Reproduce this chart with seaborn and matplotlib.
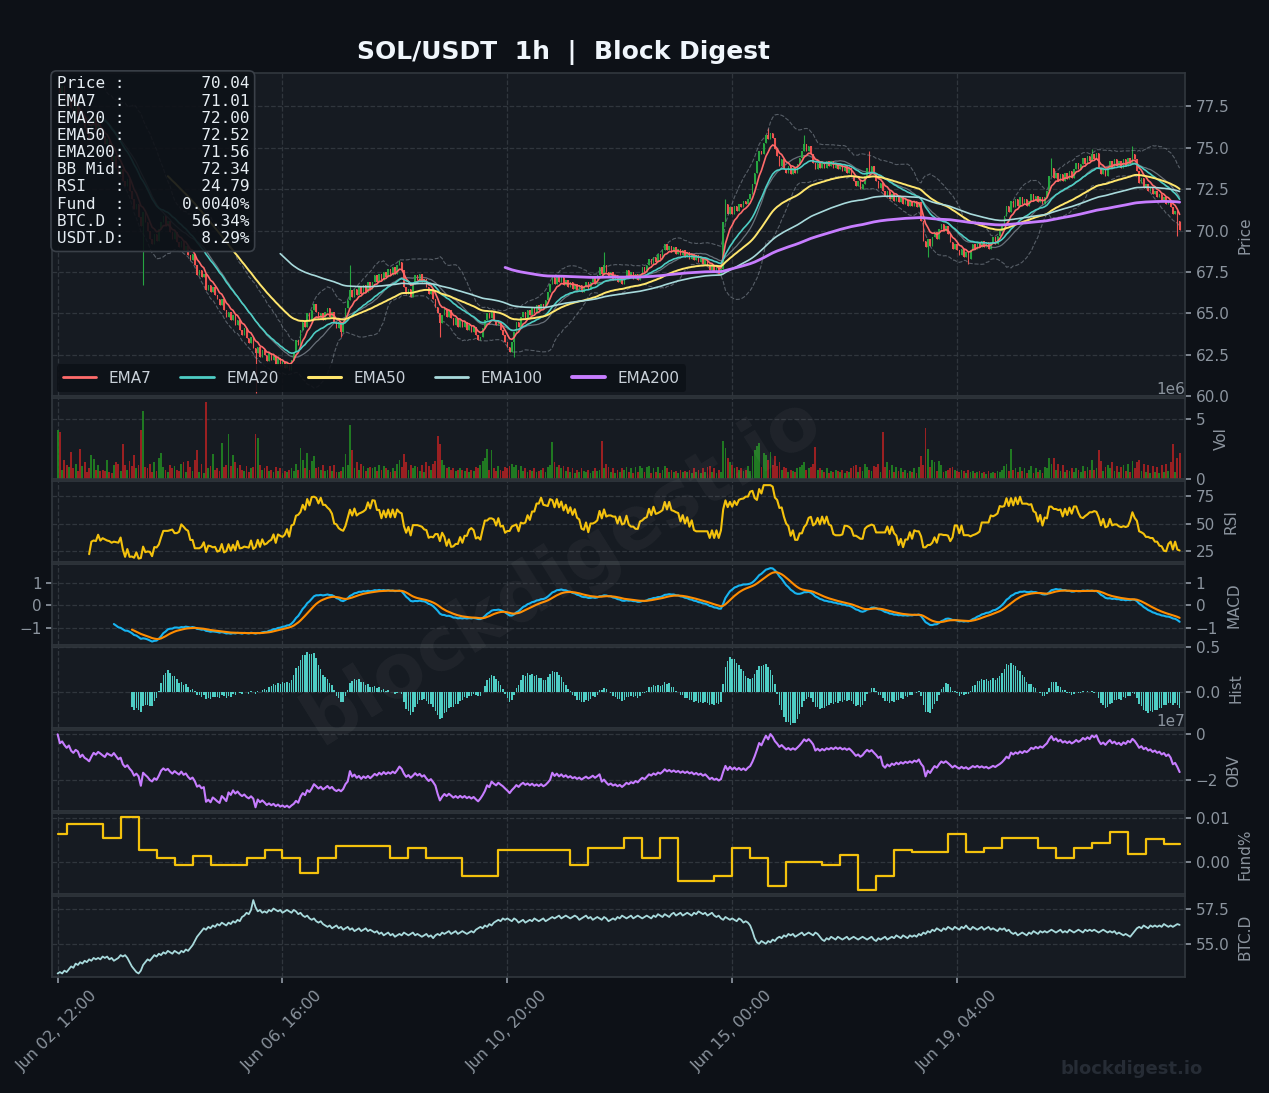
import numpy as np
import pandas as pd
import seaborn as sns
import matplotlib.pyplot as plt
import matplotlib.dates as mdates
from matplotlib.ticker import MultipleLocator

# ---- données (bougies 1h) ----
start = "2025-06-02 12:00"

close = [
    78.6, 78.3, 78.7, 78.1, 77.8, 78.0, 77.4, 77.1, 77.5, 76.9, 76.6, 76.8, 76.2, 75.9, 75.5, 76.3, 76.8, 76.1, 76.5, 75.9,
    75.7, 75.2, 75.5, 74.8, 74.2, 74.5, 73.8, 73.4, 73.7, 73.0, 72.7, 73.1, 72.4, 71.9, 71.3, 71.6, 70.8, 70.3, 71.1, 70.5,
    70.0, 69.5, 69.2, 69.8, 69.4, 70.1, 70.5, 70.9, 70.3, 70.6, 69.9, 69.5, 69.9, 69.3, 69.0, 69.4, 68.8, 69.1, 68.5, 68.2,
    68.6, 67.9, 67.3, 67.6, 67.2, 67.4, 66.4, 66.7, 66.3, 66.6, 66.1, 65.9, 65.5, 65.9, 65.2, 64.8, 65.1, 64.6, 64.9, 64.3,
    64.6, 64.0, 63.7, 64.1, 63.5, 63.2, 63.6, 62.9, 62.6, 63.0, 62.4, 62.8, 62.5, 62.1, 62.6, 62.2, 62.5, 61.9, 62.3, 61.8,
    62.1, 61.7, 62.0, 61.6, 62.2, 62.7, 63.4, 63.1, 64.0, 64.5, 64.2, 65.0, 64.6, 65.2, 65.6, 65.1, 64.7, 65.0, 64.6, 65.1,
    65.3, 64.8, 65.1, 64.5, 64.1, 64.5, 63.9, 64.4, 65.3, 65.8, 66.4, 66.0, 66.5, 66.1, 66.6, 66.2, 66.7, 66.3, 66.9, 66.5,
    66.9, 67.3, 66.9, 67.4, 67.0, 67.5, 67.2, 67.7, 67.3, 67.8, 67.4, 67.9, 68.1, 67.6, 66.6, 66.2, 66.5, 66.0, 66.8, 67.3,
    67.0, 67.4, 66.9, 67.1, 66.6, 66.2, 66.5, 65.9, 65.4, 65.0, 64.4, 64.9, 65.3, 64.8, 65.2, 64.7, 64.3, 64.7, 64.2, 64.6,
    64.2, 64.5, 64.0, 64.3, 63.9, 64.2, 63.7, 63.4, 63.6, 64.1, 64.6, 65.0, 64.7, 65.1, 64.6, 64.3, 64.5, 64.0, 63.7, 63.3,
    63.0, 62.7, 63.3, 63.9, 64.5, 64.2, 64.8, 65.1, 64.7, 65.2, 64.9, 65.3, 65.0, 65.5, 65.2, 65.6, 65.3, 65.8, 66.3, 66.8,
    67.2, 66.8, 67.3, 66.9, 67.2, 66.7, 67.0, 66.6, 66.9, 66.5, 66.8, 66.4, 66.7, 66.3, 66.6, 66.9, 66.5, 66.9, 67.2, 66.8,
    67.3, 67.8, 67.4, 67.9, 67.5, 67.2, 67.5, 67.0, 67.3, 66.9, 67.2, 66.8, 67.2, 67.6, 67.2, 67.5, 67.1, 67.4, 67.0, 67.4,
    67.8, 67.5, 67.9, 68.3, 68.0, 68.4, 68.1, 68.6, 68.3, 68.8, 69.2, 68.8, 69.1, 68.7, 69.0, 68.6, 68.9, 68.5, 68.8, 68.4,
    68.7, 68.3, 68.6, 68.2, 68.5, 68.1, 68.4, 68.0, 68.3, 67.9, 67.6, 67.9, 67.5, 67.8, 67.4, 67.7, 70.5, 71.6, 71.0, 71.4,
    71.0, 71.5, 71.2, 71.6, 71.4, 71.8, 71.6, 71.9, 72.2, 72.8, 73.5, 74.2, 74.8, 74.6, 75.3, 75.8, 75.5, 75.9, 75.6, 74.9,
    74.5, 73.9, 74.3, 73.7, 73.5, 73.9, 73.4, 73.8, 73.5, 74.0, 74.4, 74.8, 75.2, 74.8, 75.1, 74.6, 74.1, 73.7, 74.1, 73.8,
    74.1, 73.8, 74.2, 73.9, 74.2, 73.8, 74.1, 73.7, 74.0, 73.6, 73.9, 73.5, 73.8, 73.3, 73.0, 72.7, 73.0, 72.5, 72.8, 73.3,
    73.8, 73.5, 73.9, 73.4, 73.0, 72.6, 72.9, 72.4, 72.1, 72.4, 71.9, 72.2, 71.8, 72.1, 71.7, 72.0, 71.6, 71.9, 71.5, 71.8,
    71.5, 71.8, 71.4, 71.7, 70.6, 69.4, 69.0, 69.5, 69.1, 69.6, 69.9, 69.5, 70.1, 70.4, 70.0, 70.3, 69.8, 69.3, 68.9, 69.2,
    68.8, 68.5, 68.9, 68.4, 68.7, 68.3, 68.8, 69.2, 68.9, 69.3, 69.0, 69.4, 69.0, 69.3, 68.9, 69.3, 69.6, 69.2, 69.7, 70.0,
    70.4, 70.9, 71.5, 71.1, 71.8, 71.4, 71.9, 71.5, 72.0, 71.6, 71.9, 71.5, 71.8, 72.2, 71.8, 72.1, 71.7, 72.0, 71.6, 72.0,
    72.4, 73.3, 73.8, 73.2, 73.5, 73.0, 73.4, 73.0, 73.5, 73.1, 73.6, 73.2, 73.7, 74.1, 73.7, 74.0, 74.4, 74.0, 74.5, 74.2,
    74.6, 74.3, 74.7, 73.8, 73.4, 73.7, 73.3, 73.8, 74.2, 73.8, 74.3, 73.9, 74.2, 73.8, 74.3, 73.9, 74.4, 74.1, 74.6, 74.3,
    73.6, 72.9, 73.2, 72.6, 72.8, 72.4, 72.6, 72.2, 72.4, 72.0, 72.2, 71.8, 72.0, 71.6, 71.8, 71.4, 71.0, 71.2, 70.6, 70.04,
]

# mèches marquantes (heure depuis le début -> prix)
wick_low = {38: 66.7, 88: 60.2, 126: 63.6, 170: 63.6, 203: 62.4, 387: 68.4, 405: 68.0, 498: 69.7}
wick_high = {130: 67.9, 152: 68.2, 243: 68.7, 297: 71.9, 316: 76.2, 332: 75.8, 361: 74.8, 442: 74.4, 460: 74.9, 478: 75.1}

# volume en millions
volume_m = [
    4.1, 3.9, 0.8, 1.6, 1.2, 1.0, 2.3, 0.9, 1.3, 0.7, 2.5, 1.1, 1.4, 0.6, 0.9, 2.0, 1.7, 0.8, 1.2, 0.7,
    0.8, 0.7, 1.6, 0.6, 0.5, 1.2, 1.4, 1.3, 0.7, 2.9, 1.2, 0.8, 1.5, 1.1, 2.0, 0.9, 1.2, 4.1, 5.7, 1.0,
    0.9, 1.3, 0.6, 1.4, 0.7, 1.8, 2.2, 1.0, 0.8, 0.6, 1.2, 0.9, 1.1, 0.8, 0.7, 1.3, 1.4, 0.6, 1.5, 1.0,
    0.7, 1.6, 2.4, 0.6, 1.3, 0.5, 6.4, 0.9, 1.1, 2.1, 0.8, 0.9, 0.7, 3.0, 1.0, 1.2, 3.8, 1.1, 2.0, 1.4,
    0.9, 1.2, 0.8, 0.7, 1.1, 0.6, 0.9, 1.0, 3.8, 3.4, 1.2, 0.8, 0.9, 1.1, 0.7, 0.8, 0.6, 1.0, 0.7, 0.9,
    0.5, 0.7, 0.6, 0.8, 0.9, 0.7, 1.3, 0.8, 2.6, 1.6, 0.9, 2.2, 0.8, 1.5, 1.9, 0.9, 1.0, 0.8, 1.2, 0.7,
    0.8, 1.1, 0.7, 1.2, 0.6, 0.6, 0.7, 1.0, 2.1, 1.2, 4.5, 2.4, 0.9, 1.4, 0.8, 1.3, 1.1, 0.7, 0.9, 1.0,
    0.9, 1.0, 0.7, 1.2, 0.8, 1.1, 0.9, 0.8, 0.6, 0.9, 0.7, 1.3, 1.6, 1.0, 2.1, 1.4, 0.8, 1.2, 0.9, 1.1,
    1.0, 0.7, 1.2, 0.6, 1.4, 1.1, 0.8, 1.3, 1.5, 3.6, 2.9, 1.6, 1.2, 0.9, 1.0, 0.8, 0.9, 0.7, 0.8, 0.9,
    0.8, 0.7, 0.9, 0.6, 0.8, 0.7, 1.0, 0.9, 1.2, 1.5, 1.8, 2.5, 0.8, 2.4, 0.9, 0.7, 1.1, 0.8, 0.7, 1.0,
    0.9, 1.1, 1.3, 1.0, 1.2, 0.8, 1.1, 0.7, 0.9, 0.6, 0.8, 0.7, 0.9, 0.6, 0.7, 0.8, 0.9, 0.6, 1.0, 1.2,
    3.1, 1.4, 1.0, 1.2, 0.9, 1.1, 0.7, 1.0, 0.6, 0.9, 0.5, 0.8, 0.6, 0.9, 0.7, 0.6, 0.8, 0.5, 0.7, 0.9,
    0.7, 0.8, 3.2, 0.9, 1.3, 1.0, 0.6, 0.9, 0.5, 0.8, 0.6, 0.9, 0.8, 1.0, 0.6, 0.9, 0.5, 1.0, 0.6, 1.1,
    0.9, 0.6, 1.0, 1.1, 0.5, 0.9, 0.6, 1.0, 0.5, 0.8, 1.1, 0.9, 0.6, 0.8, 0.6, 0.7, 0.5, 0.8, 0.6, 0.7,
    0.6, 0.8, 0.5, 0.9, 0.6, 0.8, 0.5, 0.9, 0.6, 1.0, 1.1, 0.6, 0.9, 0.5, 0.8, 0.6, 3.2, 2.6, 1.8, 1.4,
    1.2, 0.9, 1.0, 0.8, 0.9, 0.7, 0.8, 1.1, 0.7, 1.9, 2.4, 2.8, 3.0, 1.0, 2.2, 2.0, 1.6, 2.3, 1.2, 1.9,
    1.1, 1.4, 0.8, 1.0, 0.9, 0.6, 0.8, 0.7, 0.6, 0.9, 1.0, 1.2, 1.4, 0.8, 0.9, 1.0, 1.3, 2.7, 0.8, 0.9,
    0.8, 0.6, 0.9, 0.5, 0.7, 0.6, 0.8, 0.7, 0.6, 0.8, 0.5, 0.7, 0.6, 0.9, 1.1, 1.2, 0.6, 1.0, 0.7, 1.3,
    1.0, 0.8, 0.7, 1.1, 1.0, 1.3, 0.6, 3.9, 1.0, 1.4, 0.8, 1.2, 0.6, 1.0, 0.7, 0.9, 0.6, 0.8, 0.5, 0.7,
    0.6, 0.9, 0.5, 1.0, 1.9, 1.2, 4.3, 2.5, 1.0, 1.6, 1.4, 0.7, 1.5, 1.2, 0.6, 0.7, 0.8, 0.9, 1.0, 0.8,
    0.7, 0.6, 0.8, 0.7, 0.5, 0.8, 0.6, 0.7, 0.5, 0.6, 0.7, 0.5, 0.6, 0.4, 0.7, 0.5, 0.6, 0.5, 0.7, 0.6,
    0.8, 1.1, 1.3, 0.7, 2.5, 0.8, 0.9, 0.6, 1.0, 0.7, 0.9, 0.5, 0.8, 1.1, 0.5, 0.9, 0.6, 0.8, 0.5, 1.0,
    0.9, 1.8, 1.3, 1.8, 0.8, 1.3, 0.7, 1.2, 0.6, 0.8, 0.7, 0.9, 0.6, 0.9, 0.8, 0.6, 1.1, 0.7, 1.0, 0.8,
    1.6, 0.8, 0.9, 2.4, 1.5, 0.7, 1.0, 1.2, 0.9, 1.4, 0.7, 1.1, 0.6, 1.0, 1.2, 0.7, 1.3, 0.6, 1.5, 0.9,
    1.4, 1.6, 0.7, 1.3, 0.6, 1.2, 0.5, 1.1, 0.6, 1.0, 0.5, 1.2, 0.6, 1.3, 0.7, 1.4, 2.9, 0.6, 1.8, 2.2,
]

# dominance BTC (%)
btc_d = [
    52.9, 53.0, 52.9, 53.1, 53.0, 53.2, 53.4, 53.3, 53.6, 53.5, 53.7, 53.6, 53.8, 53.7, 53.9, 53.8, 54.0, 53.9, 54.0, 53.9,
    54.1, 54.0, 54.1, 53.9, 54.0, 53.8, 53.9, 54.0, 54.2, 54.1, 54.2, 54.0, 53.7, 53.4, 53.2, 53.0, 52.9, 53.1, 53.5, 53.7,
    53.9, 53.8, 54.0, 54.2, 54.1, 54.3, 54.2, 54.4, 54.3, 54.5, 54.4, 54.3, 54.5, 54.4, 54.3, 54.5, 54.4, 54.6, 54.5, 54.7,
    54.9, 55.2, 55.5, 55.7, 55.9, 56.1, 56.0, 56.2, 56.1, 56.3, 56.2, 56.4, 56.3, 56.5, 56.4, 56.3, 56.5, 56.4, 56.6, 56.5,
    56.7, 56.6, 56.9, 57.0, 57.2, 57.1, 57.4, 58.1, 57.6, 57.3, 57.4, 57.2, 57.3, 57.2, 57.4, 57.3, 57.5, 57.4, 57.3, 57.4,
    57.2, 57.3, 57.4, 57.3, 57.2, 57.4, 57.3, 57.1, 57.2, 57.0, 56.9, 57.0, 56.8, 56.7, 56.8, 56.6, 56.5, 56.6, 56.4, 56.3,
    56.2, 56.3, 56.1, 56.2, 56.3, 56.1, 56.2, 56.0, 56.1, 56.2, 56.0, 56.1, 55.9, 56.0, 56.1, 55.9, 56.0, 56.1, 55.9, 56.0,
    55.9, 55.8, 55.9, 55.7, 55.8, 55.6, 55.7, 55.8, 55.6, 55.7, 55.5, 55.6, 55.7, 55.6, 55.8, 55.7, 55.6, 55.7, 55.8, 55.6,
    55.7, 55.6, 55.5, 55.6, 55.7, 55.5, 55.6, 55.4, 55.6, 55.7, 55.6, 55.8, 55.7, 55.8, 55.9, 55.7, 55.8, 55.9, 55.7, 55.8,
    55.9, 55.8, 55.7, 55.8, 55.9, 55.8, 56.0, 56.1, 56.2, 56.1, 56.3, 56.2, 56.4, 56.3, 56.5, 56.6, 56.7, 56.6, 56.8, 56.7,
    56.8, 56.7, 56.6, 56.8, 56.7, 56.5, 56.6, 56.7, 56.5, 56.6, 56.7, 56.6, 56.8, 56.7, 56.6, 56.7, 56.8, 56.6, 56.7, 56.8,
    56.9, 56.8, 56.9, 57.0, 56.8, 56.9, 57.0, 56.9, 56.8, 56.9, 57.0, 56.9, 56.7, 56.8, 56.9, 57.0, 56.8, 56.9, 56.7, 56.8,
    56.9, 56.8, 56.7, 56.9, 56.8, 56.6, 56.7, 56.8, 56.7, 56.9, 56.8, 57.0, 56.9, 56.8, 56.9, 57.0, 56.8, 56.9, 57.0, 56.9,
    56.8, 56.9, 57.0, 56.9, 56.8, 57.0, 56.9, 57.1, 57.0, 56.9, 57.1, 57.0, 56.9, 57.1, 57.2, 57.0, 57.1, 57.2, 57.0, 57.1,
    57.2, 57.1, 57.0, 57.2, 57.1, 57.3, 57.2, 57.1, 57.2, 57.0, 57.1, 57.2, 57.0, 56.9, 57.0, 56.8, 56.7, 56.9, 56.8, 56.7,
    56.8, 56.7, 56.6, 56.8, 56.7, 56.5, 56.6, 56.5, 56.3, 55.9, 55.4, 55.1, 55.0, 55.2, 55.1, 55.0, 55.2, 55.1, 55.3, 55.2,
    55.4, 55.5, 55.4, 55.6, 55.5, 55.7, 55.6, 55.7, 55.5, 55.6, 55.7, 55.8, 55.6, 55.7, 55.8, 55.7, 55.6, 55.8, 55.7, 55.5,
    55.3, 55.2, 55.4, 55.3, 55.5, 55.4, 55.3, 55.5, 55.4, 55.3, 55.4, 55.5, 55.3, 55.4, 55.5, 55.4, 55.3, 55.4, 55.5, 55.4,
    55.3, 55.4, 55.5, 55.3, 55.2, 55.4, 55.3, 55.4, 55.5, 55.3, 55.4, 55.5, 55.4, 55.6, 55.5, 55.4, 55.6, 55.5, 55.4, 55.6,
    55.5, 55.6, 55.5, 55.7, 55.6, 55.8, 55.7, 55.9, 55.8, 56.0, 55.9, 56.1, 56.0, 55.9, 56.1, 56.0, 56.2, 56.1, 56.0, 56.2,
    56.1, 56.0, 56.2, 56.1, 56.3, 56.1, 56.0, 56.2, 56.1, 56.0, 56.1, 56.2, 56.0, 56.1, 56.2, 56.0, 56.1, 56.0, 55.9, 56.1,
    56.0, 56.1, 55.9, 56.0, 55.8, 55.7, 55.8, 55.6, 55.7, 55.8, 55.7, 55.6, 55.8, 55.7, 55.9, 55.8, 55.7, 55.9, 55.8, 55.9,
    55.8, 55.9, 56.0, 55.9, 55.8, 55.9, 56.0, 55.8, 55.9, 55.8, 56.0, 55.9, 55.8, 55.9, 56.0, 55.9, 55.8, 56.0, 55.9, 56.0,
    55.9, 56.0, 55.9, 55.8, 55.9, 56.0, 55.9, 55.8, 55.9, 55.8, 55.9, 55.7, 55.8, 55.7, 55.6, 55.7, 55.6, 55.5, 55.7, 55.9,
    56.1, 56.2, 56.1, 56.3, 56.2, 56.1, 56.3, 56.2, 56.3, 56.2, 56.3, 56.2, 56.4, 56.3, 56.2, 56.3, 56.2, 56.3, 56.4, 56.34,
]

# funding (%) par période de 8h, la première est entamée (00h/08h/16h UTC)
funding = [
    0.0063, 0.0085, 0.0085, 0.0054, 0.0101, 0.0028, 0.0010, -0.0007, 0.0015, -0.0007,
    -0.0007, 0.0010, 0.0028, 0.0010, -0.0023, 0.0010, 0.0037, 0.0037, 0.0037, 0.0010,
    0.0033, 0.0010, 0.0010, -0.0030, -0.0030, 0.0028, 0.0028, 0.0028, 0.0028, -0.0007,
    0.0033, 0.0033, 0.0054, 0.0010, 0.0054, -0.0042, -0.0042, -0.0030, 0.0033, 0.0010,
    -0.0053, 0.0001, 0.0001, -0.0007, 0.0017, -0.0063, -0.0030, 0.0028, 0.0024, 0.0024,
    0.0063, 0.0024, 0.0033, 0.0054, 0.0054, 0.0033, 0.0010, 0.0033, 0.0044, 0.0068,
    0.0018, 0.0052, 0.0040,
]

readout_labels = ["Price", "EMA7", "EMA20", "EMA50", "EMA200", "BB Mid", "RSI", "Fund", "BTC.D", "USDT.D"]
readout_values = ["70.04", "71.01", "72.00", "72.52", "71.56", "72.34", "24.79", "0.0040%", "56.34%", "8.29%"]

ema_periods = [7, 20, 50, 100, 200]
ema_colors = ["#ff6b6b", "#4ecdc4", "#ffe66d", "#a8dadc", "#c77dff"]
ema_widths = [1.2, 1.2, 1.4, 1.2, 2.0]

# ---- calculs ----
dates = pd.date_range(start, periods=len(close), freq="h")
df = pd.DataFrame({"close": close, "volume": np.array(volume_m) * 1e6, "btc_d": btc_d}, index=dates)
df["open"] = df["close"].shift(1).fillna(df["close"].iloc[0])
df["high"] = df[["open", "close"]].max(axis=1)
df["low"] = df[["open", "close"]].min(axis=1)
for h, v in wick_low.items():
    df.iloc[h, df.columns.get_loc("low")] = v
for h, v in wick_high.items():
    df.iloc[h, df.columns.get_loc("high")] = v

hours = np.arange(len(df))
period = np.where(hours < 4, 0, 1 + (hours - 4) // 8)
df["fund"] = np.array(funding)[period]

for n in ema_periods:
    df[f"ema{n}"] = df["close"].ewm(span=n, adjust=False, min_periods=n).mean()

df["bb_mid"] = df["close"].rolling(20).mean()
bb_std = df["close"].rolling(20).std()
df["bb_up"] = df["bb_mid"] + 2 * bb_std
df["bb_low"] = df["bb_mid"] - 2 * bb_std

delta = df["close"].diff()
gain = delta.clip(lower=0).rolling(14).mean()
loss = (-delta.clip(upper=0)).rolling(14).mean()
df["rsi"] = 100 - 100 / (1 + gain / loss)

ema12 = df["close"].ewm(span=12, adjust=False, min_periods=12).mean()
ema26 = df["close"].ewm(span=26, adjust=False, min_periods=26).mean()
df["macd"] = ema12 - ema26
df["signal"] = df["macd"].ewm(span=9, adjust=False, min_periods=9).mean()
df["hist"] = df["macd"] - df["signal"]

df["obv"] = (np.sign(delta).fillna(0) * df["volume"]).cumsum()

up = df["close"] >= df["open"]

# ---- style ----
bg = "#0d1117"
panel = "#161b22"
grey = "#8b949e"
sns.set_theme(style="darkgrid", rc={
    "figure.facecolor": bg, "axes.facecolor": panel, "axes.edgecolor": "#30363d",
    "grid.color": "#30363d", "grid.linestyle": "--", "grid.linewidth": 0.9,
    "xtick.color": grey, "ytick.color": grey, "axes.labelcolor": grey, "text.color": "#c9d1d9",
    "xtick.bottom": True, "ytick.right": True, "xtick.major.size": 4, "ytick.major.size": 4,
    "patch.edgecolor": "none", "patch.linewidth": 0,
})
plt.rcParams["font.family"] = ["DejaVu Sans"]

fig = plt.figure(figsize=(12.69, 10.93), dpi=100)
gs = fig.add_gridspec(8, 1, height_ratios=[4, 1, 1, 1, 1, 1, 1, 1], hspace=0.02,
                      left=0.041, right=0.934, top=0.933, bottom=0.106)
axes = [fig.add_subplot(gs[0])]
for i in range(1, 8):
    axes.append(fig.add_subplot(gs[i], sharex=axes[0]))
ax_p, ax_v, ax_rsi, ax_macd, ax_hist, ax_obv, ax_fund, ax_btc = axes

bar_w = 0.65 / 24

# prix : bougies + EMA + Bollinger
candle_colors = np.where(up, "#26a641", "#ef5350")
ax_p.vlines(df.index, df["low"], df["high"], colors=candle_colors, linewidth=0.8, zorder=2)
ax_p.bar(df.index, (df["close"] - df["open"]).abs().clip(lower=0.03), bottom=df[["open", "close"]].min(axis=1),
         width=bar_w, color=candle_colors, edgecolor="none", linewidth=0, zorder=3)
sns.lineplot(x=df.index, y=df["bb_up"], ax=ax_p, color=grey, lw=0.8, ls="--", alpha=0.55, zorder=2)
sns.lineplot(x=df.index, y=df["bb_low"], ax=ax_p, color=grey, lw=0.8, ls="--", alpha=0.55, zorder=2)
sns.lineplot(x=df.index, y=df["bb_mid"], ax=ax_p, color=grey, lw=0.9, alpha=0.7, zorder=2)
handles = []
for n, c, w in zip(ema_periods, ema_colors, ema_widths):
    sns.lineplot(x=df.index, y=df[f"ema{n}"], ax=ax_p, color=c, lw=w, zorder=4)
    handles.append(plt.Line2D([], [], color=c, lw=w + 0.8, label=f"EMA{n}"))
ax_p.set_ylim(60, 79.5)
ax_p.yaxis.set_major_locator(MultipleLocator(2.5))
ax_p.legend(handles=handles, loc="lower left", ncol=5, fontsize=11, facecolor=bg,
            edgecolor="#3a4048", labelcolor="#c9d1d9", framealpha=0.9,
            borderaxespad=0.3, columnspacing=1.9, handlelength=2.2)

info = "\n".join(f"{lab:<6}:{val:>13}" for lab, val in zip(readout_labels, readout_values))
ax_p.text(0.004, 0.99, info, transform=ax_p.transAxes, va="top", ha="left", family="DejaVu Sans Mono",
          fontsize=11.5, color="#e6edf3", linespacing=1.18, zorder=10,
          bbox=dict(boxstyle="round,pad=0.35", fc=(13 / 255, 17 / 255, 23 / 255, 0.9), ec="#3a4048", lw=1.2))

# volume
vol_colors = np.where(up, "#228b22", "#b22222")
ax_v.bar(df.index, df["volume"], width=0.8 / 24, color=vol_colors, alpha=0.85, edgecolor="none", linewidth=0)
ax_v.set_yticks([0, 5e6])

# RSI
sns.lineplot(x=df.index, y=df["rsi"], ax=ax_rsi, color="#f4c20d", lw=1.5)
ax_rsi.set_yticks([25, 50, 75])

# MACD
sns.lineplot(x=df.index, y=df["macd"], ax=ax_macd, color="#18b4f0", lw=1.5)
sns.lineplot(x=df.index, y=df["signal"], ax=ax_macd, color="#ff8c00", lw=1.5)
ax_macd.set_yticks([-1, 0, 1])

# histogramme MACD
ax_hist.bar(df.index, df["hist"], width=bar_w, color="#4ecdc4", edgecolor="none", linewidth=0)
ax_hist.set_yticks([0.0, 0.5])

# OBV
sns.lineplot(x=df.index, y=df["obv"], ax=ax_obv, color="#c77dff", lw=1.5)
ax_obv.set_yticks([-2e7, 0])

# funding
ax_fund.plot(df.index, df["fund"], color="#f4c20d", lw=1.6, drawstyle="steps-post")
ax_fund.set_yticks([0.0, 0.01])
ax_fund.yaxis.set_major_formatter(plt.FormatStrFormatter("%.2f"))

# BTC dominance
sns.lineplot(x=df.index, y=df["btc_d"], ax=ax_btc, color="#a8dadc", lw=1.3)
ax_btc.set_yticks([55.0, 57.5])
ax_btc.yaxis.set_major_formatter(plt.FormatStrFormatter("%.1f"))

labels = ["Price", "Vol", "RSI", "MACD", "Hist", "OBV", "Fund%", "BTC.D"]
for ax, lab in zip(axes, labels):
    ax.yaxis.tick_right()
    ax.yaxis.set_label_position("right")
    ax.set_ylabel(lab, fontsize=11, color=grey, labelpad=6)
    ax.set_xlabel("")
    ax.tick_params(axis="y", labelsize=11, colors=grey, length=4)
    ax.grid(True, color="#30363d", ls="--", lw=0.9)
    for s in ax.spines.values():
        s.set_color("#30363d")
    ax.yaxis.get_offset_text().set_color(grey)
    ax.yaxis.get_offset_text().set_fontsize(11)
    if ax is not ax_btc:
        ax.tick_params(axis="x", labelbottom=False, bottom=False)
ax_macd.tick_params(axis="y", left=True, labelleft=True)

ax_btc.set_xlim(dates[0] - pd.Timedelta(hours=2.5), dates[-1] + pd.Timedelta(hours=2.5))
ax_btc.set_xticks(dates[::100])
ax_btc.xaxis.set_major_formatter(mdates.DateFormatter("%b %d, %H:%M"))
ax_btc.tick_params(axis="x", labelsize=11.5, colors=grey, length=4)
plt.setp(ax_btc.get_xticklabels(), rotation=45, ha="center")

fig.text(0.4437, 0.952, "SOL/USDT  1h  |  Block Digest", ha="center", va="center",
         fontsize=18, fontweight="bold", color="#f0f6fc")
fig.text(0.443, 0.478, "blockdigest.io", ha="center", va="center", fontsize=54, fontweight="bold",
         rotation=32, color="white", alpha=0.045, zorder=20)
fig.text(0.948, 0.014, "blockdigest.io", ha="right", va="bottom", fontsize=13, fontweight="bold",
         color="#262c35")

fig.savefig("out.png", dpi=100, facecolor=bg)
